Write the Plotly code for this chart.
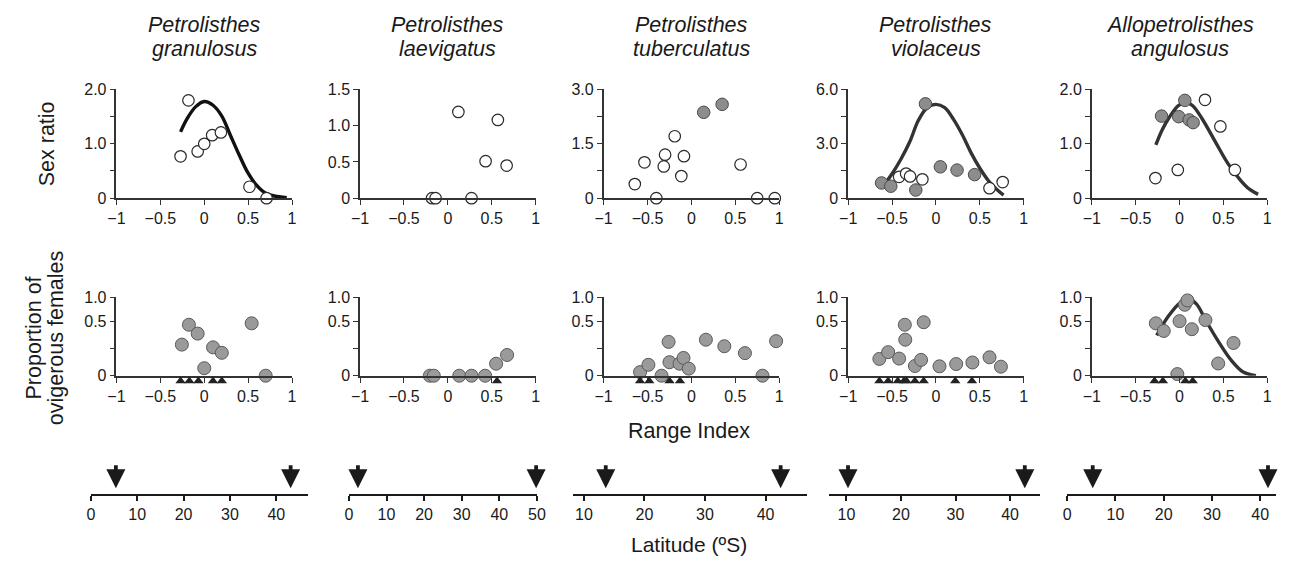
import plotly.graph_objects as go

# ---------------- data ----------------
genus = ["Petrolisthes", "Petrolisthes", "Petrolisthes", "Petrolisthes", "Allopetrolisthes"]
species = ["granulosus", "laevigatus", "tuberculatus", "violaceus", "angulosus"]

range_ticks = [-1, -0.5, 0, 0.5, 1]
range_ticktext = ["\u22121", "\u22120.5", "0", "0.5", "1"]

sex_ymax = [2.0, 1.5, 3.0, 6.0, 2.0]
sex_tickvals = [[0, 0.5, 1, 1.5, 2], [0, 0.5, 1, 1.5], [0, 0.75, 1.5, 2.25, 3],
                [0, 1.5, 3, 4.5, 6], [0, 0.5, 1, 1.5, 2]]
sex_ticktext = [["0", "", "1.0", "", "2.0"], ["0", "0.5", "1.0", "1.5"], ["0", "", "1.5", "", "3.0"],
                ["0", "", "3.0", "", "6.0"], ["0", "", "1.0", "", "2.0"]]

# ovigerous axis as drawn in the source: top tick (labelled 1.0) sits at ~0.72 of the 0-0.5 spacing
ovi_ymax = 0.72
ovi_tickvals = [0, 0.25, 0.5, 0.72]
ovi_ticktext = ["0", "", "0.5", "1.0"]

# --- P. granulosus ---
gran_sr_open_x = [-0.27, -0.18, -0.075, 0.0, 0.09, 0.19, 0.515, 0.71]
gran_sr_open_y = [0.77, 1.80, 0.86, 1.0, 1.16, 1.21, 0.21, 0.0]
gran_sr_fill_x = []
gran_sr_fill_y = []
gran_sr_fit_x = [-0.27, -0.2, -0.1, 0, 0.1, 0.2, 0.3, 0.4, 0.5, 0.6, 0.7, 0.8, 0.94]
gran_sr_fit_y = [1.22, 1.45, 1.68, 1.78, 1.71, 1.51, 1.15, 0.79, 0.46, 0.23, 0.09, 0.04, 0.01]
gran_ov_x = [-0.255, -0.175, -0.075, 0.0, 0.10, 0.20, 0.54, 0.70]
gran_ov_y = [0.285, 0.467, 0.386, 0.069, 0.26, 0.21, 0.48, 0.0]
gran_tri_x = [-0.27, -0.17, -0.067, 0.10, 0.20]
gran_ov_fit_x = []
gran_ov_fit_y = []

# --- P. laevigatus ---
laev_sr_open_x = [-0.18, -0.14, 0.12, 0.27, 0.43, 0.57, 0.67]
laev_sr_open_y = [0.0, 0.0, 1.19, 0.0, 0.51, 1.08, 0.45]
laev_sr_fill_x = []
laev_sr_fill_y = []
laev_sr_fit_x = []
laev_sr_fit_y = []
laev_ov_x = [-0.205, -0.16, 0.13, 0.27, 0.425, 0.55, 0.675]
laev_ov_y = [0.0, 0.0, 0.0, 0.0, 0.0, 0.11, 0.19]
laev_tri_x = [0.56]
laev_ov_fit_x = []
laev_ov_fit_y = []

# --- P. tuberculatus ---
tube_sr_open_x = [-0.645, -0.535, -0.40, -0.315, -0.30, -0.19, -0.115, -0.085, 0.56, 0.75, 0.95]
tube_sr_open_y = [0.39, 0.99, 0.0, 0.875, 1.20, 1.71, 0.61, 1.16, 0.93, 0.0, 0.0]
tube_sr_fill_x = [0.14, 0.35]
tube_sr_fill_y = [2.37, 2.59]
tube_sr_fit_x = []
tube_sr_fit_y = []
tube_ov_x = [-0.585, -0.49, -0.34, -0.26, -0.25, -0.135, -0.09, -0.03, 0.165, 0.375, 0.61, 0.81, 0.965]
tube_ov_y = [0.033, 0.10, 0.0, 0.31, 0.124, 0.11, 0.163, 0.065, 0.33, 0.27, 0.207, 0.0, 0.317]
tube_tri_x = [-0.585, -0.48, -0.25, -0.13]
tube_ov_fit_x = []
tube_ov_fit_y = []

# --- P. violaceus ---
viol_sr_open_x = [-0.42, -0.34, -0.295, -0.155, 0.61, 0.76]
viol_sr_open_y = [1.18, 1.36, 1.20, 1.04, 0.55, 0.89]
viol_sr_fill_x = [-0.62, -0.515, -0.23, -0.12, 0.05, 0.24, 0.44]
viol_sr_fill_y = [0.84, 0.66, 0.45, 5.21, 1.73, 1.55, 1.30]
viol_sr_fit_x = [-0.6, -0.5, -0.4, -0.3, -0.2, -0.1, 0, 0.1, 0.2, 0.3, 0.4, 0.5, 0.6, 0.7, 0.77]
viol_sr_fit_y = [0.68, 1.35, 2.15, 3.1, 4.3, 5.0, 5.18, 5.0, 4.35, 3.5, 2.5, 1.65, 0.95, 0.45, 0.17]
viol_ov_x = [-0.645, -0.545, -0.42, -0.355, -0.35, -0.24, -0.17, -0.14, 0.04, 0.23, 0.415, 0.61, 0.74]
viol_ov_y = [0.154, 0.216, 0.157, 0.467, 0.33, 0.089, 0.145, 0.49, 0.086, 0.107, 0.121, 0.169, 0.083]
viol_tri_x = [-0.645, -0.545, -0.435, -0.365, -0.335, -0.24, -0.14, 0.22, 0.41]
viol_ov_fit_x = []
viol_ov_fit_y = []

# --- A. angulosus ---
angu_sr_open_x = [-0.275, -0.02, 0.29, 0.465, 0.63]
angu_sr_open_y = [0.37, 0.52, 1.81, 1.32, 0.52]
angu_sr_fill_x = [-0.205, -0.01, 0.06, 0.11, 0.155]
angu_sr_fill_y = [1.51, 1.50, 1.80, 1.44, 1.39]
angu_sr_fit_x = [-0.27, -0.2, -0.12, -0.01, 0.08, 0.15, 0.25, 0.4, 0.55, 0.7, 0.8, 0.895]
angu_sr_fit_y = [0.98, 1.25, 1.48, 1.71, 1.76, 1.70, 1.48, 1.06, 0.64, 0.32, 0.16, 0.07]
angu_ov_x = [-0.27, -0.18, -0.025, 0.0, 0.06, 0.09, 0.14, 0.295, 0.44, 0.615]
angu_ov_y = [0.48, 0.41, 0.015, 0.50, 0.65, 0.69, 0.426, 0.51, 0.112, 0.30]
angu_tri_x = [-0.285, -0.19, 0.066, 0.15]
angu_ov_fit_x = [-0.26, -0.12, 0.01, 0.12, 0.2, 0.29, 0.44, 0.59, 0.72, 0.87]
angu_ov_fit_y = [0.37, 0.553, 0.67, 0.70, 0.65, 0.52, 0.317, 0.14, 0.036, 0.0]

# Latitude row
lat_ranges = [[0, 46.8], [0, 50], [8.2, 46.9], [6.9, 45.4], [0, 43.3]]
lat_tickvals = [[0, 10, 20, 30, 40], [0, 10, 20, 30, 40, 50], [10, 20, 30, 40],
                [10, 20, 30, 40], [0, 10, 20, 30, 40]]
lat_limits = [[5.4, 43.1], [2.4, 49.8], [13.6, 42.5], [10.3, 42.7], [5.3, 41.6]]

panels = [
    dict(sr_open=(gran_sr_open_x, gran_sr_open_y), sr_fill=(gran_sr_fill_x, gran_sr_fill_y),
         sr_fit=(gran_sr_fit_x, gran_sr_fit_y), ov=(gran_ov_x, gran_ov_y), tri=gran_tri_x,
         ov_fit=(gran_ov_fit_x, gran_ov_fit_y), fitcolor="#111111"),
    dict(sr_open=(laev_sr_open_x, laev_sr_open_y), sr_fill=(laev_sr_fill_x, laev_sr_fill_y),
         sr_fit=(laev_sr_fit_x, laev_sr_fit_y), ov=(laev_ov_x, laev_ov_y), tri=laev_tri_x,
         ov_fit=(laev_ov_fit_x, laev_ov_fit_y), fitcolor="#333333"),
    dict(sr_open=(tube_sr_open_x, tube_sr_open_y), sr_fill=(tube_sr_fill_x, tube_sr_fill_y),
         sr_fit=(tube_sr_fit_x, tube_sr_fit_y), ov=(tube_ov_x, tube_ov_y), tri=tube_tri_x,
         ov_fit=(tube_ov_fit_x, tube_ov_fit_y), fitcolor="#333333"),
    dict(sr_open=(viol_sr_open_x, viol_sr_open_y), sr_fill=(viol_sr_fill_x, viol_sr_fill_y),
         sr_fit=(viol_sr_fit_x, viol_sr_fit_y), ov=(viol_ov_x, viol_ov_y), tri=viol_tri_x,
         ov_fit=(viol_ov_fit_x, viol_ov_fit_y), fitcolor="#333333"),
    dict(sr_open=(angu_sr_open_x, angu_sr_open_y), sr_fill=(angu_sr_fill_x, angu_sr_fill_y),
         sr_fit=(angu_sr_fit_x, angu_sr_fit_y), ov=(angu_ov_x, angu_ov_y), tri=angu_tri_x,
         ov_fit=(angu_ov_fit_x, angu_ov_fit_y), fitcolor="#333333"),
]

# ---------------- layout geometry (pixels) ----------------
W, H = 1299, 571
FONT = "Arial, Liberation Sans, sans-serif"
col_left = [109, 356, 603, 851, 1098]
col_w = 178
top_row = (84, 196)
bot_row = (298, 379)
tri_row = (379, 390)
lat_px = [(83, 303), (344.7, 535.3), (572, 809.5), (832, 1045), (1073, 1285)]
lat_row = (466, 501)
LABEL_SIZE = 21.5
TICK_SIZE = 16


def fx(p):
    return p / W


def fy(p):
    return 1 - p / H


AX = "#333333"
TXT = "#1a1a1a"
fig = go.Figure()
layout = dict(width=W, height=H, margin=dict(l=0, r=0, t=0, b=0),
              paper_bgcolor="white", plot_bgcolor="white", showlegend=False,
              font=dict(family=FONT, color=TXT))

annotations = []


def sfx(n):
    return "" if n == 1 else str(n)


def label(x, y, text, angle=0, size=LABEL_SIZE):
    return dict(x=fx(x), y=fy(y), xref="paper", yref="paper", showarrow=False, text=text,
                textangle=angle, font=dict(size=size, family=FONT, color=TXT),
                xanchor="center", yanchor="middle")


for i, p in enumerate(panels):
    xd = [fx(col_left[i]), fx(col_left[i] + col_w)]
    n_top, n_bot, n_lat, n_tri = i + 1, i + 6, i + 11, i + 16
    common_x = dict(range=[-1, 1], showline=True, linecolor=AX, linewidth=1.6, ticks="outside",
                    ticklen=5, tickwidth=1.3, tickcolor=AX, tickvals=range_ticks,
                    ticktext=range_ticktext, tickfont=dict(size=TICK_SIZE, family=FONT, color=TXT),
                    showgrid=False, zeroline=False, fixedrange=True)
    common_y = dict(showline=True, linecolor=AX, linewidth=1.6, ticks="outside", ticklen=5,
                    tickwidth=1.3, tickcolor=AX, tickfont=dict(size=TICK_SIZE, family=FONT, color=TXT),
                    showgrid=False, zeroline=False, fixedrange=True)
    layout["xaxis" + sfx(n_top)] = dict(common_x, domain=xd, anchor="y" + sfx(n_top))
    layout["yaxis" + sfx(n_top)] = dict(common_y, domain=[fy(top_row[1]), fy(top_row[0])],
                                        anchor="x" + sfx(n_top), range=[0, sex_ymax[i]],
                                        tickvals=sex_tickvals[i], ticktext=sex_ticktext[i])
    layout["xaxis" + str(n_bot)] = dict(common_x, domain=xd, anchor="y" + str(n_bot))
    layout["yaxis" + str(n_bot)] = dict(common_y, domain=[fy(bot_row[1]), fy(bot_row[0])],
                                        anchor="x" + str(n_bot), range=[0, ovi_ymax],
                                        tickvals=ovi_tickvals, ticktext=ovi_ticktext)
    # hidden strip just below each ovigerous x axis for the triangle markers
    layout["yaxis" + str(n_tri)] = dict(domain=[fy(tri_row[1]), fy(tri_row[0])],
                                        anchor="x" + str(n_bot), range=[0, 1], visible=False,
                                        fixedrange=True)
    layout["xaxis" + str(n_lat)] = dict(domain=[fx(lat_px[i][0]), fx(lat_px[i][1])],
                                        anchor="y" + str(n_lat), range=lat_ranges[i],
                                        tickvals=lat_tickvals[i], showline=True, linecolor=TXT,
                                        linewidth=2, ticks="outside", ticklen=5, tickwidth=1.5,
                                        tickcolor=TXT,
                                        tickfont=dict(size=TICK_SIZE, family=FONT, color=TXT),
                                        showgrid=False, zeroline=False, fixedrange=True)
    layout["yaxis" + str(n_lat)] = dict(domain=[fy(lat_row[1]), fy(lat_row[0])],
                                        anchor="x" + str(n_lat), range=[0, 1], visible=False,
                                        fixedrange=True)

    xa_t, ya_t = "x" + sfx(n_top), "y" + sfx(n_top)
    xa_b, ya_b = "x" + str(n_bot), "y" + str(n_bot)

    # top row: fit, open, filled
    if p["sr_fit"][0]:
        fig.add_trace(go.Scatter(x=p["sr_fit"][0], y=p["sr_fit"][1], mode="lines",
                                 line=dict(color=p["fitcolor"], width=3.4, shape="spline"),
                                 xaxis=xa_t, yaxis=ya_t, cliponaxis=False, hoverinfo="skip"))
    fig.add_trace(go.Scatter(x=p["sr_open"][0], y=p["sr_open"][1], mode="markers",
                             marker=dict(symbol="circle", size=11.5, color="white",
                                         line=dict(color="#2a2a2a", width=1.2)),
                             xaxis=xa_t, yaxis=ya_t, cliponaxis=False))
    if p["sr_fill"][0]:
        fig.add_trace(go.Scatter(x=p["sr_fill"][0], y=p["sr_fill"][1], mode="markers",
                                 marker=dict(symbol="circle", size=12.5, color="#8c8c8c",
                                             line=dict(color="#4a4a4a", width=1)),
                                 xaxis=xa_t, yaxis=ya_t, cliponaxis=False))
    # bottom row
    if p["ov_fit"][0]:
        fig.add_trace(go.Scatter(x=p["ov_fit"][0], y=p["ov_fit"][1], mode="lines",
                                 line=dict(color=p["fitcolor"], width=3.4, shape="spline"),
                                 xaxis=xa_b, yaxis=ya_b, cliponaxis=False, hoverinfo="skip"))
    fig.add_trace(go.Scatter(x=p["ov"][0], y=p["ov"][1], mode="markers",
                             marker=dict(symbol="circle", size=13, color="#9a9a9a",
                                         line=dict(color="#5a5a5a", width=1)),
                             xaxis=xa_b, yaxis=ya_b, cliponaxis=False))
    fig.add_trace(go.Scatter(x=p["tri"], y=[0.5] * len(p["tri"]), mode="markers",
                             marker=dict(symbol="triangle-up", size=9, color="#222222"),
                             xaxis=xa_b, yaxis="y" + str(n_tri), cliponaxis=False))

    # latitude arrows
    for lat in lat_limits[i]:
        annotations.append(dict(x=lat, y=0.17, ax=lat, ay=0.89, xref="x" + str(n_lat),
                                yref="y" + str(n_lat), axref="x" + str(n_lat),
                                ayref="y" + str(n_lat), text="", showarrow=True, arrowhead=2,
                                arrowsize=1, arrowwidth=3.8, arrowcolor=TXT))

    # titles (two italic lines)
    cx = col_left[i] + col_w / 2
    annotations.append(label(cx, 18, "<i>%s</i>" % genus[i]))
    annotations.append(label(cx, 42, "<i>%s</i>" % species[i]))

annotations += [
    label(38, 140, "Sex ratio", angle=-90),
    label(25, 340, "Proportion of", angle=-90),
    label(48, 340, "ovigerous females", angle=-90),
    label(690, 436, "Range Index"),
    label(690, 553, "Latitude (\u00baS)", size=21),
]
layout["annotations"] = annotations
fig.update_layout(**layout)
fig.write_html("out.html", config={"displayModeBar": False},
               post_script="document.body.style.margin='0px';document.body.style.overflow='hidden';")
